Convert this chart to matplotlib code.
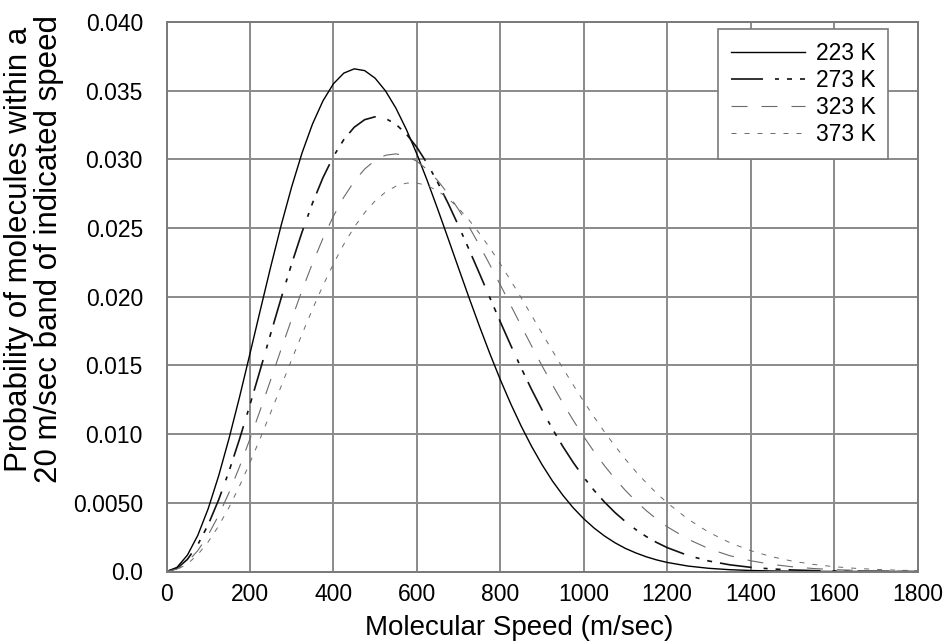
import matplotlib
matplotlib.use("Agg")
import matplotlib.pyplot as plt
from matplotlib.ticker import FixedLocator

plt.rcParams['font.family'] = ['Liberation Sans', 'DejaVu Sans']
plt.rcParams['lines.scale_dashes'] = False

# molecular speed (m/sec): 25 m/s steps up to 1200, then 50 m/s steps
speed = list(range(0, 1200, 25)) + list(range(1200, 1801, 50))

p223 = [0, 0.000299, 0.001187, 0.002631, 0.004579, 0.006963, 0.00970, 0.01269,
        0.01585, 0.01905, 0.02221, 0.02522, 0.02800, 0.03048, 0.03258, 0.03426,
        0.03550, 0.03628, 0.03659, 0.03646, 0.03591, 0.03498, 0.03372, 0.03217,
        0.03040, 0.02845, 0.02638, 0.02424, 0.02208, 0.01994, 0.01786, 0.01586,
        0.01397, 0.01221, 0.01059, 0.00911, 0.00778, 0.00659, 0.00555, 0.00463,
        0.00384, 0.00316, 0.00258, 0.00209, 0.00168, 0.00135, 0.00107, 0.000842,
        0.00066,
        0.000396, 0.000231, 0.000131, 0.000073, 0.000039, 0.000021, 0.0000105,
        0.000005, 0.0000024, 0.000001, 0.0000005, 0.0000002]
p273 = [0, 0.000221, 0.000879, 0.001953, 0.003413, 0.005216, 0.00731, 0.009636,
        0.01213, 0.01472, 0.01734, 0.01992, 0.02240, 0.02472, 0.02682, 0.02867,
        0.03021, 0.03144, 0.03234, 0.03289, 0.03310, 0.03298, 0.03255, 0.03184,
        0.03088, 0.02969, 0.02832, 0.02680, 0.02516, 0.02345, 0.02170, 0.01993,
        0.01818, 0.01647, 0.01482, 0.01325, 0.01177, 0.01038, 0.00910, 0.00793,
        0.00686, 0.00590, 0.00505, 0.00429, 0.00363, 0.00305, 0.00254, 0.00211,
        0.00174,
        0.001165, 0.000762, 0.000487, 0.000304, 0.000186, 0.000111, 0.000065,
        0.0000373, 0.0000209, 0.0000114, 0.0000061, 0.0000032]
p323 = [0, 0.000172, 0.000683, 0.001521, 0.002665, 0.004087, 0.00575, 0.00762,
        0.00965, 0.01178, 0.01398, 0.01620, 0.01837, 0.02047, 0.02244, 0.02425,
        0.02586, 0.02725, 0.02840, 0.02930, 0.02993, 0.03030, 0.03040, 0.03025,
        0.02986, 0.02926, 0.02846, 0.02748, 0.02635, 0.02510, 0.02375, 0.02233,
        0.02087, 0.01938, 0.01789, 0.01642, 0.01498, 0.01359, 0.01226, 0.01100,
        0.00982, 0.00871, 0.00769, 0.00675, 0.00590, 0.00512, 0.00443, 0.00381,
        0.00326,
        0.00235, 0.00166, 0.00115, 0.000783, 0.000522, 0.000342, 0.000219,
        0.000138, 0.0000855, 0.000052, 0.000031, 0.0000181]
p373 = [0, 0.000139, 0.000551, 0.001229, 0.002158, 0.003318, 0.00468, 0.006227,
        0.00792, 0.009715, 0.01159, 0.01350, 0.01542, 0.01729, 0.01910, 0.02081,
        0.02239, 0.02382, 0.02507, 0.02612, 0.02698, 0.02762, 0.02805, 0.02827,
        0.02828, 0.02809, 0.02771, 0.02716, 0.02644, 0.02559, 0.02462, 0.02355,
        0.02240, 0.02118, 0.01993, 0.01864, 0.01735, 0.01607, 0.01480, 0.01357,
        0.01238, 0.01124, 0.01015, 0.00913, 0.00817, 0.00727, 0.00645, 0.00569,
        0.00500,
        0.00381, 0.00285, 0.00210, 0.00152, 0.00108, 0.000754, 0.000518,
        0.000350, 0.000233, 0.000153, 0.0000983, 0.0000623]

labels = ['223 K', '273 K', '323 K', '373 K']
x_ticks = [0, 200, 400, 600, 800, 1000, 1200, 1400, 1600, 1800]
y_ticks = [0.0, 0.005, 0.010, 0.015, 0.020, 0.025, 0.030, 0.035, 0.040]
y_tick_labels = ['0.0', '0.0050', '0.010', '0.015', '0.020', '0.025', '0.030', '0.035', '0.040']

px = 0.72
fig = plt.figure(figsize=(9.49, 6.44), dpi=100)
ax = fig.add_axes([166.5 / 949, 1 - 571.5 / 644, 751 / 949, 549.5 / 644])

ax.plot(speed, p223, color='black', lw=1.0, label=labels[0])
ax.plot(speed, p273, color='#111111', lw=1.2,
        dashes=[32 * px, 12 * px, 4 * px, 8 * px, 5 * px, 8 * px], label=labels[1])
ax.plot(speed, p323, color='#6a6a6a', lw=0.8,
        dashes=[16 * px, 14 * px], label=labels[2])
ax.plot(speed, p373, color='#6a6a6a', lw=0.7,
        dashes=[5 * px, 8 * px], label=labels[3])

ax.set_xlim(0, 1800)
ax.set_ylim(0, 0.040)
ax.xaxis.set_major_locator(FixedLocator(x_ticks))
ax.yaxis.set_major_locator(FixedLocator(y_ticks))
ax.set_xticklabels([str(t) for t in x_ticks])
ax.set_yticklabels(y_tick_labels)
ax.tick_params(axis='both', length=0, labelsize=16.5, colors='black')
ax.tick_params(axis='x', pad=8)
ax.tick_params(axis='y', pad=17)

ax.grid(True, color='#8a8a8a', lw=1.4)
ax.set_axisbelow(True)
for s in ax.spines.values():
    s.set_color('#7a7a7a')
    s.set_linewidth(1.4)

fig.text(519 / 949, 1 - 628 / 644, 'Molecular Speed (m/sec)', fontsize=20,
         ha='center', va='center')
fig.text(34 / 949, 1 - 249 / 644,
         'Probability of molecules within a\n20 m/sec band of indicated speed',
         fontsize=22.5, rotation=90, ha='center', va='center', linespacing=0.98,
         multialignment='center')

leg = ax.legend(loc='upper right', bbox_to_anchor=(0.9607, 0.9873), borderaxespad=0,
                fontsize=16.5, handlelength=3.25, handletextpad=0.45,
                labelspacing=0.18, borderpad=0.55, fancybox=False, framealpha=1,
                edgecolor='#7a7a7a', alignment='right')
leg.get_frame().set_linewidth(1.2)

fig.savefig('out.png', dpi=100)
